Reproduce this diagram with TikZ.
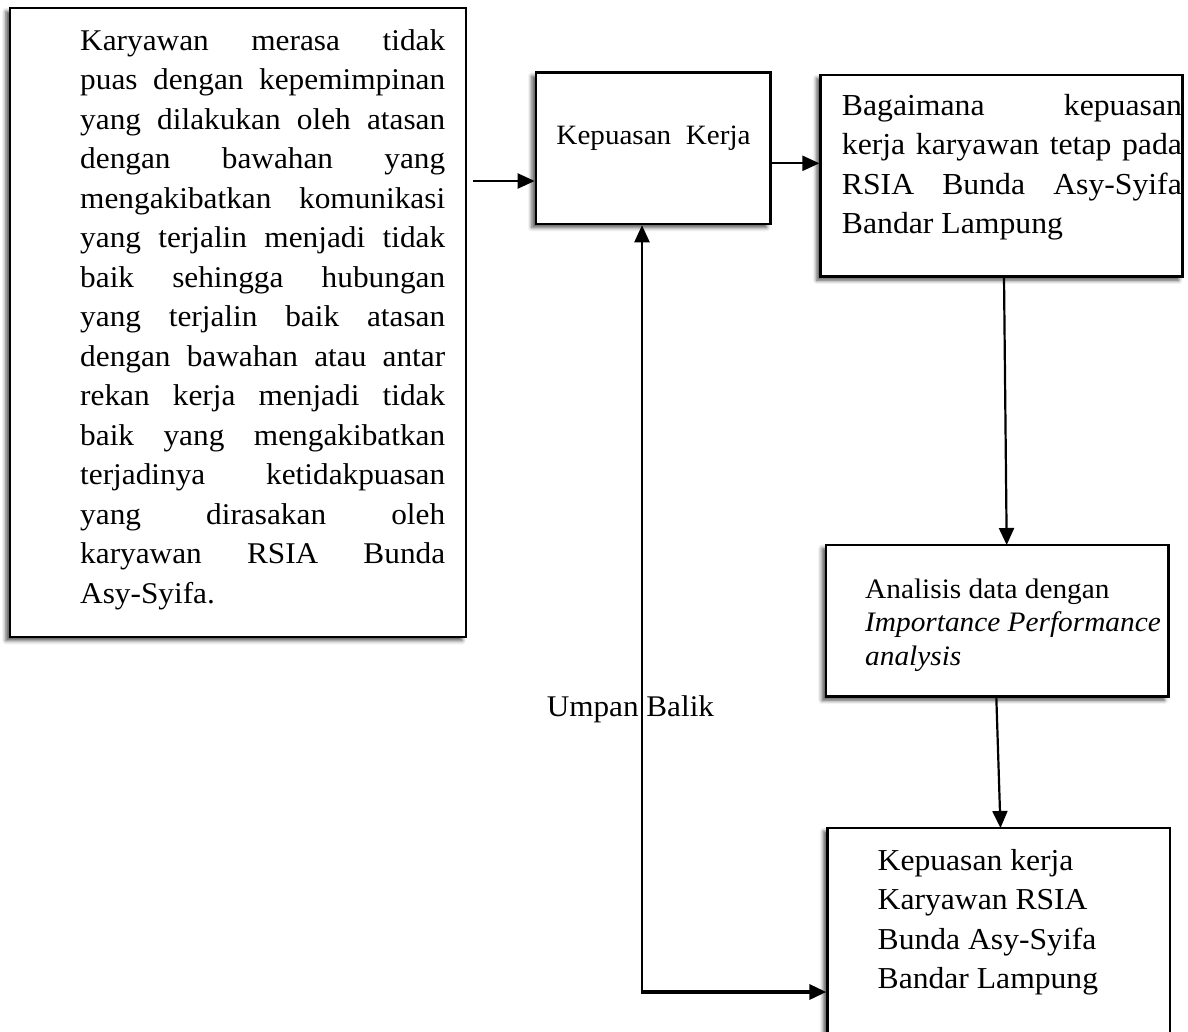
\documentclass[tikz,border=0pt]{standalone}
\usepackage{fontspec}
\setmainfont{Liberation Serif}[FakeStretch=1.04]
\usetikzlibrary{arrows.meta,shadows.blur}
\tikzset{
  box/.style={draw, line width=2.6pt, fill=white, rectangle, inner sep=0pt,
    blur shadow={shadow xshift=-4pt, shadow yshift=-3.5pt, shadow blur radius=4pt, shadow opacity=70}},
  conn/.style={line width=2.2pt, -{Triangle[length=17pt,width=15pt]}},
  txt/.style={inner sep=0pt, anchor=north west, align=left},
  lbl/.style={inner sep=0pt, anchor=base},
}
\newcommand{\jline}[2]{\makebox[#1][s]{#2}}
\begin{document}
\begin{tikzpicture}[x=1pt,y=-1pt]
\useasboundingbox (0,0) rectangle (1188,1031);
\clip (0,0) rectangle (1188,1031);

% boxes
\node[box, minimum width=456pt, minimum height=629pt] (A) at (238,322.5) {};
\node[box, minimum width=234.7pt, minimum height=151.3pt] (B) at (653.3,148.3) {};
\node[box, minimum width=362pt, minimum height=201.7pt] (C) at (1001.7,175.8) {};
\node[box, minimum width=342.3pt, minimum height=151.7pt] (D) at (997.2,620.8) {};
\node[box, minimum width=342.4pt, minimum height=264pt] (E) at (998.8,960) {};

% texts
\node[txt, font=\fontsize{30.1}{39.5}\selectfont] (tA) at (80,20) {\rule{0pt}{30pt}\jline{365pt}{Karyawan merasa tidak}\\
\jline{365pt}{puas dengan kepemimpinan}\\
\jline{365pt}{yang dilakukan oleh atasan}\\
\jline{365pt}{dengan bawahan yang}\\
\jline{365pt}{mengakibatkan komunikasi}\\
\jline{365pt}{yang terjalin menjadi tidak}\\
\jline{365pt}{baik sehingga hubungan}\\
\jline{365pt}{yang terjalin baik atasan}\\
\jline{365pt}{dengan bawahan atau antar}\\
\jline{365pt}{rekan kerja menjadi tidak}\\
\jline{365pt}{baik yang mengakibatkan}\\
\jline{365pt}{terjadinya ketidakpuasan}\\
\jline{365pt}{yang dirasakan oleh}\\
\jline{365pt}{karyawan RSIA Bunda}\\
Asy-Syifa.};

\node[lbl, font=\fontsize{28}{31}\selectfont] (tB) at (653.5,144.3) {Kepuasan~~Kerja};

\node[txt, font=\fontsize{30.5}{39.4}\selectfont] (tC) at (841.7,85) {\rule{0pt}{30pt}\jline{340pt}{Bagaimana kepuasan}\\
\jline{340pt}{kerja karyawan tetap pada}\\
\jline{340pt}{RSIA Bunda Asy-Syifa}\\
Bandar Lampung};

\node[txt, font=\fontsize{28.2}{33.3}\selectfont] (tD) at (865,568.3) {\rule{0pt}{30pt}Analisis data dengan\\
\textit{Importance Performance}\\
\textit{analysis}};

\node[txt, font=\fontsize{30.4}{39.4}\selectfont] (tE) at (877.5,840) {\rule{0pt}{30pt}Kepuasan kerja\\
Karyawan RSIA\\
Bunda Asy-Syifa\\
Bandar Lampung};

\node[lbl, font=\fontsize{30}{35}\selectfont] (tU) at (630.4,716.7) {Umpan Balik};

% connectors
\coordinate (a1) at (473,181);
\draw[conn] (a1) -- (a1 -| B.west);
\coordinate (b1) at (770.7,163.3);
\draw[conn] (b1) -- (b1 -| C.west);
\coordinate (c1) at (1004,276.7);
\coordinate (d1) at (1006.7,545);
\draw[conn] (c1) -- (d1);
\coordinate (d2) at (996.3,696.7);
\coordinate (e1) at (1000.5,828);
\draw[conn] (d2) -- (e1);
\coordinate (fb) at (642,992);
\coordinate (fb0) at (641,992);
\draw[conn] (fb) -- (fb |- B.south);
\draw[conn, line width=3.4pt] (fb0) -- (fb -| E.west);
\end{tikzpicture}
\end{document}
